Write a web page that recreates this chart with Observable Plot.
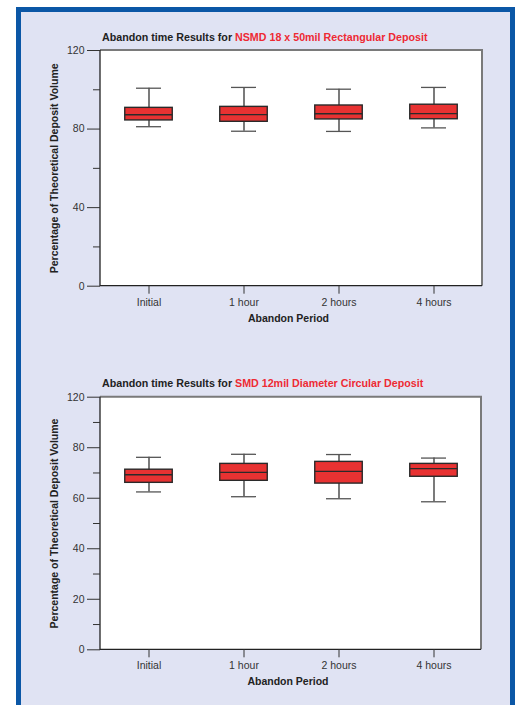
<!DOCTYPE html>
<html><head><meta charset="utf-8">
<script src="https://cdn.jsdelivr.net/npm/d3@7"></script>
<script src="https://cdn.jsdelivr.net/npm/@observablehq/plot@0.6"></script>
<style>
body{margin:0;background:#fff;width:518px;height:705px;overflow:hidden;position:relative;font-family:"Liberation Sans",Arial,sans-serif;}
#panel{position:absolute;left:16px;top:7px;width:489px;height:720px;border:5px solid #0b57a6;border-bottom:none;background:#e0e3f3;}
.title{position:absolute;left:102px;font-weight:bold;font-size:10.7px;line-height:12px;color:#222;white-space:nowrap;}
.title span{color:#ee2a33;}
svg.chart{position:absolute;left:0;}
</style></head><body>
<div id="panel"></div>
<div class="title" style="top:31px">Abandon time Results for <span>NSMD 18 x 50mil Rectangular Deposit</span></div>
<div class="title" style="top:377px">Abandon time Results for <span>SMD 12mil Diameter Circular Deposit</span></div>
<script>
const periods = ["Initial", "1 hour", "2 hours", "4 hours"];

// NSMD 18 x 50mil Rectangular Deposit
const nsmdMin = [81.2, 78.9, 78.8, 80.6];
const nsmdQ1  = [84.4, 83.7, 84.9, 85.0];
const nsmdMed = [87.3, 87.4, 87.8, 87.9];
const nsmdQ3  = [90.8, 91.3, 92.0, 92.4];
const nsmdMax = [100.8, 101.2, 100.3, 101.2];
const nsmdTicks = [0, 40, 80, 120];
const nsmdMinorTicks = [20, 60, 100];
const nsmdTickLabels = ["0", "40", "80", "120"];

// SMD 12mil Diameter Circular Deposit
const smdMin = [62.5, 60.6, 59.8, 58.6];
const smdQ1  = [66.1, 66.9, 65.8, 68.5];
const smdMed = [69.3, 70.2, 70.6, 71.7];
const smdQ3  = [71.3, 73.6, 74.4, 73.6];
const smdMax = [76.2, 77.4, 77.3, 75.9];
const smdTicks = [0, 20, 40, 60, 80, 100];
const smdMinorTicks = [10, 30, 50, 70, 90];
const smdTickLabels = ["0", "20", "40", "60", "80", "120"]; // as printed in the source

const yTitle = "Percentage of Theoretical Deposit Volume";
const xTitle = "Abandon Period";

function frameMark(index, scales, values, dims) {
  const l = dims.marginLeft, t = dims.marginTop;
  const r = dims.width - dims.marginRight, b = dims.height - dims.marginBottom;
  const g = d3.create("svg:g");
  g.append("rect").attr("x", l).attr("y", t).attr("width", r - l).attr("height", b - t).attr("fill", "#fff");
  g.append("path").attr("d", `M${l},${t}H${r}V${b}`).attr("fill", "none").attr("stroke", "#7a7a7a").attr("stroke-width", 2);
  g.append("path").attr("d", `M${l},${t}V${b}H${r}`).attr("fill", "none").attr("stroke", "#222").attr("stroke-width", 1.3);
  return g.node();
}

function boxChart({mins, q1s, meds, q3s, maxs, domain, ticks, minor, labels, top, height, mt, mb, mr}) {
  const data = periods.map((p, i) => ({p, min: mins[i], q1: q1s[i], med: meds[i], q3: q3s[i], max: maxs[i]}));
  const svg = Plot.plot({
    width: 518, height,
    marginLeft: 100, marginRight: mr, marginTop: mt, marginBottom: mb,
    style: {background: "transparent", overflow: "visible", fontFamily: "'Liberation Sans', Arial, sans-serif", color: "#333"},
    x: {domain: periods, padding: 0},
    y: {domain},
    marks: [
      frameMark,
      Plot.ruleX(data, {x: "p", y1: "min", y2: "max", stroke: "#333", strokeWidth: 1.3}),
      Plot.tickY(data, {x: "p", y: "min", stroke: "#555", strokeWidth: 1.3, insetLeft: 35, insetRight: 35}),
      Plot.tickY(data, {x: "p", y: "max", stroke: "#555", strokeWidth: 1.3, insetLeft: 35, insetRight: 35}),
      Plot.barY(data, {x: "p", y1: "q1", y2: "q3", fill: "#e83232", stroke: "#2a2a2a", strokeWidth: 1.4, insetLeft: 23.75, insetRight: 23.75}),
      Plot.tickY(data, {x: "p", y: "med", stroke: "#2a2a2a", strokeWidth: 1.3, insetLeft: 23.75, insetRight: 23.75}),
      Plot.axisY({ticks, tickSize: 13, tickPadding: 3, fontSize: 10.5, label: null,
        tickFormat: d => labels[ticks.indexOf(d)]}),
      Plot.axisY({ticks: minor, tickSize: 7, tickFormat: () => "", label: null}),
      Plot.axisX({tickSize: 8, tickPadding: 4, fontSize: 10.5, label: null}),
      Plot.text([xTitle], {frameAnchor: "bottom", dy: 32, dx: -3, textAnchor: "middle", lineAnchor: "middle", fontWeight: "bold", fontSize: 10.5, fill: "#222"}),
      Plot.text([yTitle], {frameAnchor: "left", dx: -46, rotate: -90, textAnchor: "middle", lineAnchor: "middle", fontWeight: "bold", fontSize: 10.5, fill: "#222"})
    ]
  });
  svg.classList.add("chart");
  svg.style.top = top + "px";
  document.body.appendChild(svg);
}

boxChart({mins: nsmdMin, q1s: nsmdQ1, meds: nsmdMed, q3s: nsmdQ3, maxs: nsmdMax,
  domain: [0, 120], ticks: nsmdTicks, minor: nsmdMinorTicks, labels: nsmdTickLabels,
  top: 0, height: 340, mt: 50, mb: 54.3, mr: 36});
boxChart({mins: smdMin, q1s: smdQ1, meds: smdMed, q3s: smdQ3, maxs: smdMax,
  domain: [0, 100], ticks: smdTicks, minor: smdMinorTicks, labels: smdTickLabels,
  top: 350, height: 355, mt: 46.7, mb: 55.7, mr: 37});
</script>
</body></html>
